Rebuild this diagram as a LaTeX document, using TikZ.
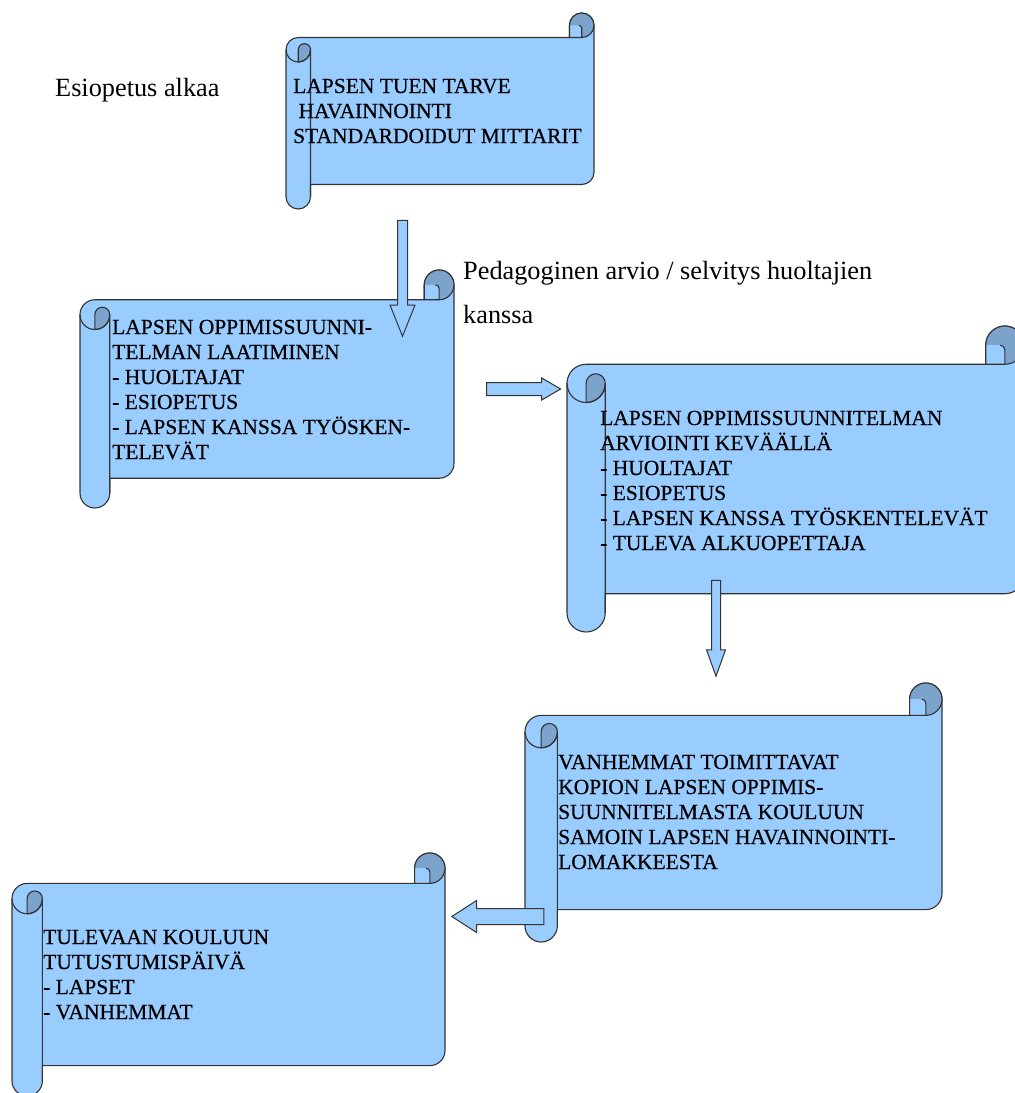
\documentclass[tikz,border=0pt]{standalone}
\usepackage{fontspec}
\setmainfont{Liberation Serif}
\newfontfamily\scrollfont[FakeBold=0.5]{Liberation Serif}
\usepackage{tikz}
\usetikzlibrary{shapes.arrows}

\definecolor{scrollblue}{HTML}{99CCFF}
\definecolor{rolldark}{HTML}{7BA3CC}
\definecolor{edgegray}{HTML}{333333}

\tikzset{
  scrollbody/.style={fill=scrollblue, draw=edgegray, line width=1.1, line join=round},
  scrollroll/.style={fill=rolldark, draw=edgegray, line width=1.1, line join=round},
  scrollline/.style={draw=edgegray, line width=1.1},
  boxtext/.style={anchor=base west, inner sep=0, align=left, font=\scrollfont\fontsize{21.5}{25}\selectfont},
  labeltext/.style={anchor=base west, inner sep=0, align=left, font=\fontsize{26.3}{44}\selectfont},
  blockarrow/.style={single arrow, draw=edgegray, fill=scrollblue, line width=1, line join=miter}
}

% scroll: left, top, right, bottom (y grows downwards)
\newcommand{\scrollshape}[4]{%
  \pgfmathsetmacro{\rc}{min(#3-#1,#4-#2)/8}
  \pgfmathsetmacro{\rh}{\rc/2}
  \pgfmathsetmacro{\rq}{\rc/4}
  \filldraw[scrollbody] ({#1+\rh},{#2+\rc}) arc[start angle=270, end angle=180, radius=\rh]
    -- (#1,{#4-\rh}) arc[start angle=180, end angle=0, radius=\rh]
    -- ({#1+\rc},{#4-\rc}) -- ({#3-\rh},{#4-\rc}) arc[start angle=90, end angle=0, radius=\rh]
    -- (#3,{#2+\rh}) arc[start angle=0, end angle=-180, radius=\rh]
    -- ({#3-\rc},{#2+\rc}) -- cycle;
  % roll top right
  \filldraw[scrollroll] ({#3-\rh},{#2+\rh}) circle[radius=\rh];
  \filldraw[scrollbody] ({#3-\rc},{#2+\rh}) -- ({#3-\rc},{#2+\rc}) -- ({#3-\rh},{#2+\rc})
    -- ({#3-\rh},{#2+\rh+\rq/2}) arc[start angle=0, end angle=-90, radius=\rq/2];
  % roll left
  \filldraw[scrollroll] ({#1+\rh},{#2+2*\rc}) -- ({#1+\rh},{#2+\rc+\rh})
    arc[start angle=180, end angle=360, radius=\rq]
    arc[start angle=0, end angle=90, radius=\rh] -- cycle;
  \draw[scrollline] (#1,{#2+\rc+\rh}) arc[start angle=180, end angle=0, radius=\rh]
    -- ({#1+\rc},{#4-\rh});
}

\begin{document}
\begin{tikzpicture}[x=1pt, y=-1pt]
  \useasboundingbox (0,0) rectangle (1015,1093);
  \clip (0,0) rectangle (1015,1093);

  \scrollshape{286}{13}{594}{209}
  \scrollshape{80}{270}{454}{508}
  \scrollshape{567}{326}{1024}{632}
  \scrollshape{525}{683}{942}{942}
  \scrollshape{12}{853}{445}{1096}

  % text nodes sit on the baseline of their last line
  \node[labeltext] (start) at (55,96) {Esiopetus alkaa};
  \node[labeltext] (arvio) at (463,323) {Pedagoginen arvio / selvitys huoltajien\\kanssa};

  \node[boxtext] (s1) at (293,143) {LAPSEN TUEN TARVE\\\ HAVAINNOINTI\\STANDARDOIDUT MITTARIT};
  \node[boxtext] (s2) at (112,459) {LAPSEN OPPIMISSUUNNI-\\TELMAN LAATIMINEN\\- HUOLTAJAT\\- ESIOPETUS\\- LAPSEN KANSSA TYÖSKEN-\\TELEVÄT};
  \node[boxtext] (s3) at (600,550) {LAPSEN OPPIMISSUUNNITELMAN\\ARVIOINTI KEVÄÄLLÄ\\- HUOLTAJAT\\- ESIOPETUS\\- LAPSEN KANSSA TYÖSKENTELEVÄT\\- TULEVA ALKUOPETTAJA};
  \node[boxtext] (s4) at (558,869) {VANHEMMAT TOIMITTAVAT\\KOPION LAPSEN OPPIMIS-\\SUUNNITELMASTA KOULUUN\\SAMOIN LAPSEN HAVAINNOINTI-\\LOMAKKEESTA};
  \node[boxtext] (s5) at (43,1019) {TULEVAAN KOULUUN\\TUTUSTUMISPÄIVÄ\\- LAPSET\\- VANHEMMAT};

  \node[blockarrow, rotate=-90, minimum height=116, inner sep=4.5, single arrow head extend=7.5, single arrow tip angle=43.6] (a1) at (402.5,272) {};
  \node[blockarrow, minimum height=74, inner sep=6, single arrow head extend=4.5, single arrow tip angle=60.5] (a2) at (518,389) {};
  \node[blockarrow, rotate=-90, minimum height=96, inner sep=4, single arrow head extend=5, single arrow tip angle=39.6] (a3) at (716,622) {};
  \node[blockarrow, rotate=180, minimum height=92, inner sep=7.5, single arrow head extend=8, single arrow tip angle=65.7] (a4) at (504,916.5) {};
\end{tikzpicture}
\end{document}
